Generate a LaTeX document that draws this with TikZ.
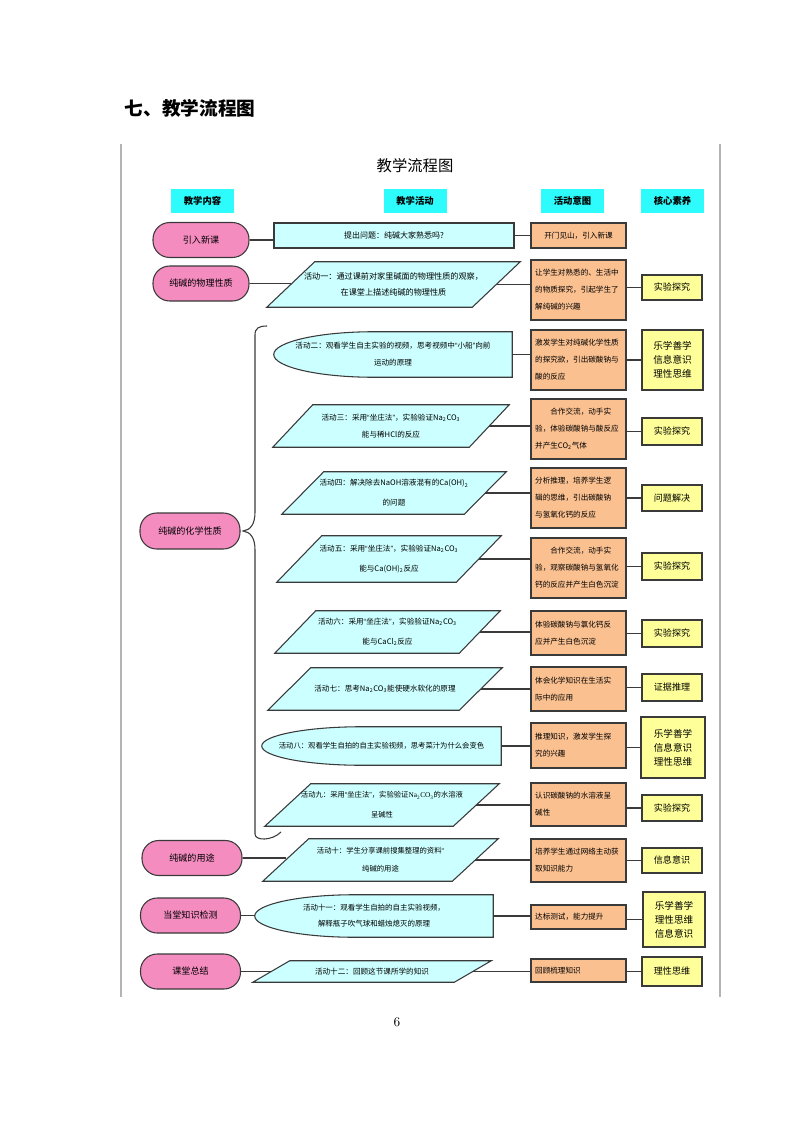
\documentclass[tikz,border=0pt]{standalone}
\usepackage{fontspec}
\newfontfamily\cjk{Noto Sans CJK SC}
\newfontfamily\timesf{Liberation Serif}
\newfontfamily\arialf{Liberation Sans}
\usetikzlibrary{calc}
\usetikzlibrary{backgrounds}
\definecolor{pillpink}{HTML}{F48CC0}
\definecolor{actcyan}{HTML}{CCFFFF}
\definecolor{aimorange}{HTML}{FAC090}
\definecolor{coreyellow}{HTML}{FFFF99}
\definecolor{headcyan}{HTML}{2EFBFB}
\definecolor{framegray}{HTML}{B4B4B4}
\definecolor{edgegray}{HTML}{3A3A3A}
\newcommand{\px}{0.75pt}
\newcommand{\slantfont}{\cjk\fontsize{5.7}{15}\selectfont}
\newcommand{\oquote}{{\arialf “}}
\newcommand{\cquote}{{\arialf ”}}

\begin{document}
\begin{tikzpicture}[x=\px, y=-\px,
	pill/.style={draw=edgegray, line width=.8pt, fill=pillpink, rounded corners=12.5pt,
		minimum width=100*\px, minimum height=35*\px, inner sep=0pt,
		font=\cjk\fontsize{6.8}{8}\selectfont},
	head/.style={fill=headcyan, minimum width=63*\px, minimum height=24*\px, inner sep=0pt,
		font=\cjk\bfseries\fontsize{7}{8}\selectfont},
	act/.style={inner sep=0pt, align=center, font=\cjk\fontsize{5.7}{12.75}\selectfont},
	aim/.style={draw=edgegray, line width=.8pt, fill=aimorange, align=left,
		text width=65pt, inner xsep=3pt, inner ysep=0pt, minimum width=95*\px,
		font=\cjk\fontsize{5.7}{12.8}\selectfont},
	core/.style={draw=edgegray, line width=.8pt, fill=coreyellow, align=center,
		minimum width=60*\px, inner sep=0pt, font=\cjk\fontsize{6.8}{8}\selectfont},
	core3/.style={core, font=\cjk\fontsize{7.2}{10.5}\selectfont},
	link/.style={draw=edgegray, line width=.8pt},
	shapeline/.style={draw=edgegray, line width=.8pt, fill=actcyan}
]
	\begin{scope}[on background layer]
		\fill[white] (0,0) rectangle (794,1123);
	\end{scope}
	\useasboundingbox (0,0) rectangle (794,1123);

	% page frame
	\node[anchor=west, font=\cjk\bfseries\fontsize{14}{16}\selectfont] (sec) at (120,108) {七、教学流程图};
	\draw[framegray, line width=.9pt] (121,144) -- (121,997);
	\draw[framegray, line width=.9pt] (720,144) -- (720,997);
	\node[font=\fontsize{10}{12}\selectfont] (pg) at (397,1022) {6};

	\node[font=\cjk\fontsize{11.5}{13}\selectfont] (ttl) at (415,166) {教学流程图};
	\node[head] (h1) at (202.5,201) {教学内容};
	\node[head] (h2) at (415,201) {教学活动};
	\node[head] (h3) at (572.5,201) {活动意图};
	\node[head] (h4) at (672.5,201) {核心素养};

	% content
	\node[pill, minimum width=96*\px] (p1) at (201,240) {引入新课};
	\node[pill, minimum width=96*\px] (p2) at (201,283.5) {纯碱的物理性质};
	\node[pill, minimum height=36*\px] (p3) at (190,531) {纯碱的化学性质};
	\node[pill] (p4) at (192,858) {纯碱的用途};
	\node[pill] (p5) at (190.5,915.5) {当堂知识检测};
	\node[pill] (p6) at (190.5,971.5) {课堂总结};

	% activities
	\node[act, draw=edgegray, fill=actcyan, line width=.8pt, minimum width=240*\px, minimum height=25*\px,
		font=\cjk\fontsize{6}{8}\selectfont] (a0) at (394,235.5) {提出问题：纯碱大家熟悉吗?};
	\node[act, minimum width=205*\px, minimum height=45*\px, font=\cjk\fontsize{6.1}{12}\selectfont] (a1) at (393.5,284.5)
		{活动一：通过课前对家里碱面的物理性质的观察，\\在课堂上描述纯碱的物理性质};
	\node[act, minimum width=238*\px, minimum height=45*\px] (a2) at (393,354.5)
		{活动二：观看学生自主实验的视频，思考视频中\oquote 小船\cquote 向前\\运动的原理};
	\node[act, minimum width=196*\px, minimum height=42*\px] (a3) at (391,426)
		{活动三：采用\oquote 坐庄法\cquote ，实验验证Na\textsubscript{2}CO\textsubscript{3}\\能与稀HCl的反应};
	\node[act, minimum width=182*\px, minimum height=42*\px, font=\slantfont] (a4) at (394,493)
		{活动四：解决除去NaOH溶液混有的Ca(OH)\textsubscript{2}\\的问题};
	\node[act, minimum width=179*\px, minimum height=46*\px, font=\slantfont] (a5) at (389,559)
		{活动五：采用\oquote 坐庄法\cquote ，实验验证Na\textsubscript{2}CO\textsubscript{3}\\能与Ca(OH)\textsubscript{2}反应};
	\node[act, minimum width=184*\px, minimum height=42*\px, font=\slantfont] (a6) at (387.5,632)
		{活动六：采用\oquote 坐庄法\cquote ，实验验证Na\textsubscript{2}CO\textsubscript{3}\\能与CaCl\textsubscript{2}反应};
	\node[act, minimum width=191*\px, minimum height=42*\px] (a7) at (385,689)
		{活动七：思考Na\textsubscript{2}CO\textsubscript{3}能使硬水软化的原理};
	\node[act, minimum width=239*\px, minimum height=38*\px, font=\cjk\fontsize{5.5}{12}\selectfont] (a8) at (381.5,746)
		{活动八：观看学生自拍的自主实验视频，思考菜汁为什么会变色};
	\node[act, minimum width=188*\px, minimum height=42*\px, font=\cjk\fontsize{5.5}{15}\selectfont] (a9) at (382,805)
		{活动九：采用\oquote 坐庄法\cquote ，实验验证{\timesf Na\textsubscript{2}CO\textsubscript{3}}的水溶液\\呈碱性};
	\node[act, minimum width=189*\px, minimum height=42*\px, font=\cjk\fontsize{5.5}{13.5}\selectfont] (a10) at (380.5,860)
		{活动十：学生分享课前搜集整理的资料\oquote\\纯碱的用途};
	\node[act, minimum width=238*\px, minimum height=42*\px, font=\cjk\fontsize{5.6}{12}\selectfont] (a11) at (374,916)
		{活动十一：观看学生自拍的自主实验视频，\\解释瓶子吹气球和蜡烛熄灭的原理};
	\node[act, minimum width=201*\px, minimum height=21*\px] (a12) at (372,971.5)
		{活动十二：回顾这节课所学的知识};

	% aims
	\node[aim, align=center, minimum height=25*\px] (o1) at (578.5,235.5) {开门见山，引入新课};
	\node[aim, minimum height=60*\px] (o2) at (578.5,290) {让学生对熟悉的、生活中\\的物质探究，引起学生了\\解纯碱的兴趣};
	\node[aim, minimum height=60*\px] (o3) at (578.5,360) {激发学生对纯碱化学性质\\的探究欲，引出碳酸钠与\\酸的反应};
	\node[aim, minimum height=60*\px] (o4) at (578.5,429) {\hspace*{2em}合作交流，动手实\\验，体验碳酸钠与酸反应\\并产生CO\textsubscript{2}气体};
	\node[aim, minimum height=60*\px] (o5) at (578.5,498) {分析推理，培养学生逻\\辑的思维，引出碳酸钠\\与氢氧化钙的反应};
	\node[aim, minimum height=60*\px] (o6) at (578.5,568) {\hspace*{2em}合作交流，动手实\\验，观察碳酸钠与氢氧化\\钙的反应并产生白色沉淀};
	\node[aim, minimum height=44*\px] (o7) at (578.5,633) {体验碳酸钠与氯化钙反\\应并产生白色沉淀};
	\node[aim, minimum height=44*\px] (o8) at (578.5,689) {体会化学知识在生活实\\际中的应用};
	\node[aim, minimum height=45*\px] (o9) at (578.5,745.5) {推理知识，激发学生探\\究的兴趣};
	\node[aim, minimum height=43*\px] (o10) at (578.5,804.5) {认识碳酸钠的水溶液呈\\碱性};
	\node[aim, minimum height=43*\px] (o11) at (578.5,860.5) {培养学生通过网络主动获\\取知识能力};
	\node[aim, minimum height=24*\px] (o12) at (578.5,917) {达标测试，能力提升};
	\node[aim, minimum height=23*\px] (o13) at (578.5,970.5) {回顾梳理知识};

	% core literacy
	\node[core, minimum height=25*\px] (y1) at (672,287.5) {实验探究};
	\node[core3, minimum width=61*\px, minimum height=60*\px] (y2) at (672.5,360) {乐学善学\\信息意识\\理性思维};
	\node[core, minimum height=27*\px] (y3) at (672,431.5) {实验探究};
	\node[core, minimum height=26*\px] (y4) at (672,498) {问题解决};
	\node[core, minimum height=27*\px] (y5) at (672,566.5) {实验探究};
	\node[core, minimum height=27*\px] (y6) at (672,633.5) {实验探究};
	\node[core, minimum height=27*\px] (y7) at (672,687.5) {证据推理};
	\node[core3, minimum width=64*\px, minimum height=61*\px] (y8) at (673,747.5) {乐学善学\\信息意识\\理性思维};
	\node[core, minimum height=26*\px] (y9) at (672,808) {实验探究};
	\node[core, minimum height=25*\px] (y10) at (672,860.5) {信息意识};
	\node[core3, minimum width=62*\px, minimum height=55*\px] (y11) at (674,919.5) {乐学善学\\理性思维\\信息意识};
	\node[core, minimum height=29*\px] (y12) at (672,971.5) {理性思维};

	% activity outlines
	\begin{scope}[on background layer]
		\foreach \n/\s in {a1/48, a3/40, a4/42, a5/45, a6/41, a7/43, a9/46, a10/46, a12/37}
			\draw[shapeline] ($(\n.south west)+(-\s/2,0)$) -- ($(\n.north west)+(\s/2,0)$)
				-- ($(\n.north east)+(\s/2,0)$) -- ($(\n.south east)+(-\s/2,0)$) -- cycle;
		\foreach \n in {a2, a8, a11}
			\draw[shapeline] (\n.north east) -- ($(\n.north west)+(100,0)$)
				.. controls ($(\n.north west)+(45,0)$) and ($(\n.west)!0.552!(\n.north west)$) .. (\n.west)
				.. controls ($(\n.west)!0.552!(\n.south west)$) and ($(\n.south west)+(45,0)$) .. ($(\n.south west)+(100,0)$)
				-- (\n.south east) -- cycle;
	\end{scope}

	% brace
	\draw[edgegray, line width=.8pt] (267,326) .. controls (259,326) and (255,328) .. (255,335)
		-- (255,512) .. controls (255,525) and (250,530) .. (243,531)
		.. controls (250,532) and (255,537) .. (255,550)
		-- (255,834) .. controls (255,841) and (272,841) .. (281,832);

	% links
	\foreach \p/\a in {p1/a0, p2/a1, p4/a10, p5/a11, p6/a12}
		\draw[link] (\p.east) -- (\p.east -| \a.west);
	\foreach \a/\o in {a0/o1, a1/o2, a2/o3, a3/o4, a4/o5, a5/o6, a6/o7, a7/o8, a8/o9, a9/o10, a10/o11, a11/o12, a12/o13}
		\draw[link] (\a.east) -- (\a.east -| \o.west);
	\foreach \o/\c in {o2/y1, o3/y2, o4/y3, o5/y4, o6/y5, o7/y6, o8/y7, o9/y8, o10/y9, o11/y10, o12/y11, o13/y12}
		\draw[link] (\c.west -| \o.east) -- (\c.west);

\end{tikzpicture}
\end{document}
